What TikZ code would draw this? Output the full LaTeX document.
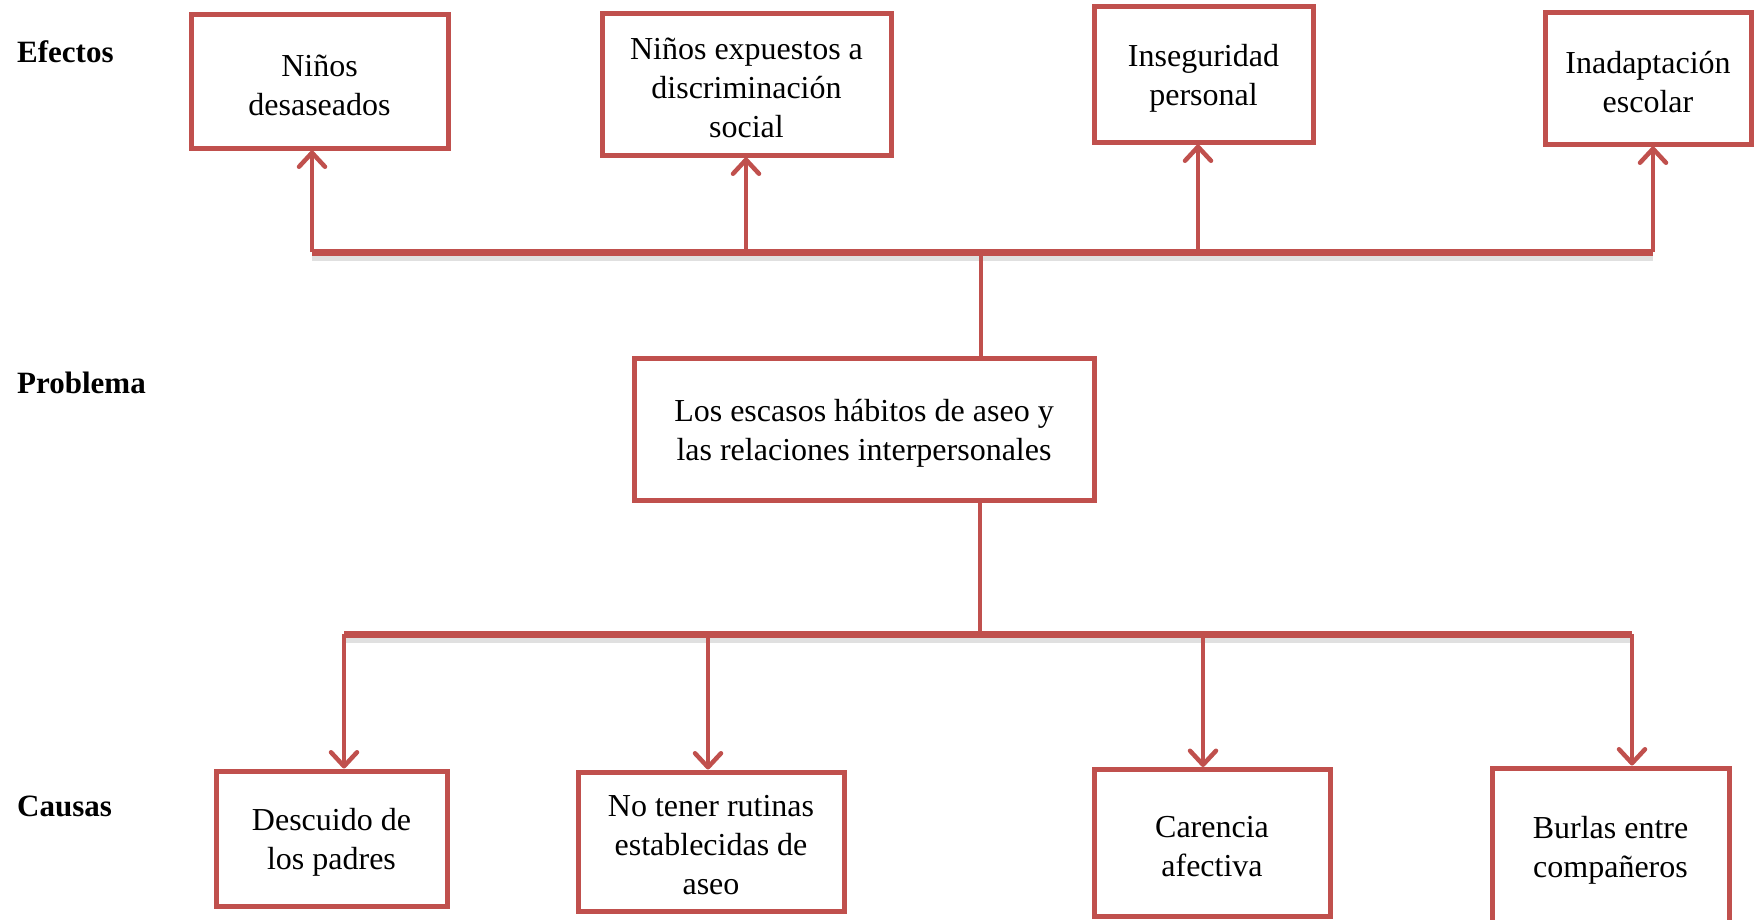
\documentclass[tikz,border=0pt]{standalone}
\usepackage{fontspec}
\setmainfont{Liberation Serif}
\usetikzlibrary{arrows.meta}
\definecolor{boxred}{HTML}{C0504D}
\begin{document}
\begin{tikzpicture}[x=1pt,y=-1pt,
  box/.style={draw=boxred, line width=5pt, fill=white, inner sep=0pt},
  txt/.style={align=center, inner sep=0pt, yshift=-4pt, font=\fontsize{32}{39}\selectfont},
  side/.style={anchor=west, inner sep=0pt, font=\fontsize{31}{37}\selectfont\bfseries},
  bar/.style={draw=boxred, line width=7pt},
  shadowbar/.style={draw=black!12, line width=6pt},
  stem/.style={draw=boxred, line width=4.5pt},
  arr/.style={draw=boxred, line width=4.5pt, -{Straight Barb[length=14pt,width=26pt,line cap=round,line join=round]}}]
\useasboundingbox (0,0) rectangle (1756,919);

% side labels
\node[side] (lef) at (17,52) {Efectos};
\node[side] (lpr) at (17,383) {Problema};
\node[side] (lca) at (17,806) {Causas};

% effect boxes
\node[box, minimum width=257pt, minimum height=134pt, label={[txt]center:{Niños\\desaseados}}] (e1) at (319.5,81) {};
\node[box, minimum width=289pt, minimum height=142pt, label={[txt]center:{Niños expuestos a\\discriminación\\social}}] (e2) at (746.5,84) {};
\node[box, minimum width=219pt, minimum height=136pt, label={[txt]center:{Inseguridad\\personal}}] (e3) at (1203.5,74) {};
\node[box, minimum width=206pt, minimum height=132pt, label={[txt]center:{Inadaptación\\escolar}}] (e4) at (1648,78) {};

% problem box
\node[box, minimum width=460pt, minimum height=142pt, label={[txt]center:{Los escasos hábitos de aseo y\\las relaciones interpersonales}}] (p) at (864,429) {};

% cause boxes
\node[box, minimum width=231pt, minimum height=135pt, label={[txt]center:{Descuido de\\los padres}}] (c1) at (331.5,838.5) {};
\node[box, minimum width=266pt, minimum height=139pt, label={[txt]center:{No tener rutinas\\establecidas de\\aseo}}] (c2) at (711,841.5) {};
\node[box, minimum width=236pt, minimum height=147pt, label={[txt]center:{Carencia\\afectiva}}] (c3) at (1212,843) {};
\node[box, minimum width=237pt, minimum height=156pt, label={[txt]center:{Burlas entre\\compañeros}}] (c4) at (1610.5,846) {};

% top connector coordinates
\coordinate (t1) at (312,252);
\coordinate (t2) at (746,252);
\coordinate (t3) at (1198,252);
\coordinate (t4) at (1653,252);
\coordinate (tm) at (981,252);

% bottom connector coordinates
\coordinate (b1) at (344,634);
\coordinate (b2) at (708,634);
\coordinate (b3) at (1203,634);
\coordinate (b4) at (1632,634);
\coordinate (bm) at (980,634);

% shadows
\draw[shadowbar] ([yshift=-6pt]t1) -- ([yshift=-6pt]t4);
\draw[shadowbar] ([yshift=-6pt]b1) -- ([yshift=-6pt]b4);

% top bar and arrows
\draw[bar] (t1) -- (t4);
\draw[stem] (tm) -- (tm |- p.north);
\draw[arr] (t1) -- (t1 |- e1.south);
\draw[arr] (t2) -- (t2 |- e2.south);
\draw[arr] (t3) -- (t3 |- e3.south);
\draw[arr] (t4) -- (t4 |- e4.south);

% bottom bar and arrows
\draw[stem] (bm |- p.south) -- (bm);
\draw[bar] (b1) -- (b4);
\draw[arr] (b1) -- (b1 |- c1.north);
\draw[arr] (b2) -- (b2 |- c2.north);
\draw[arr] (b3) -- (b3 |- c3.north);
\draw[arr] (b4) -- (b4 |- c4.north);
\end{tikzpicture}
\end{document}
